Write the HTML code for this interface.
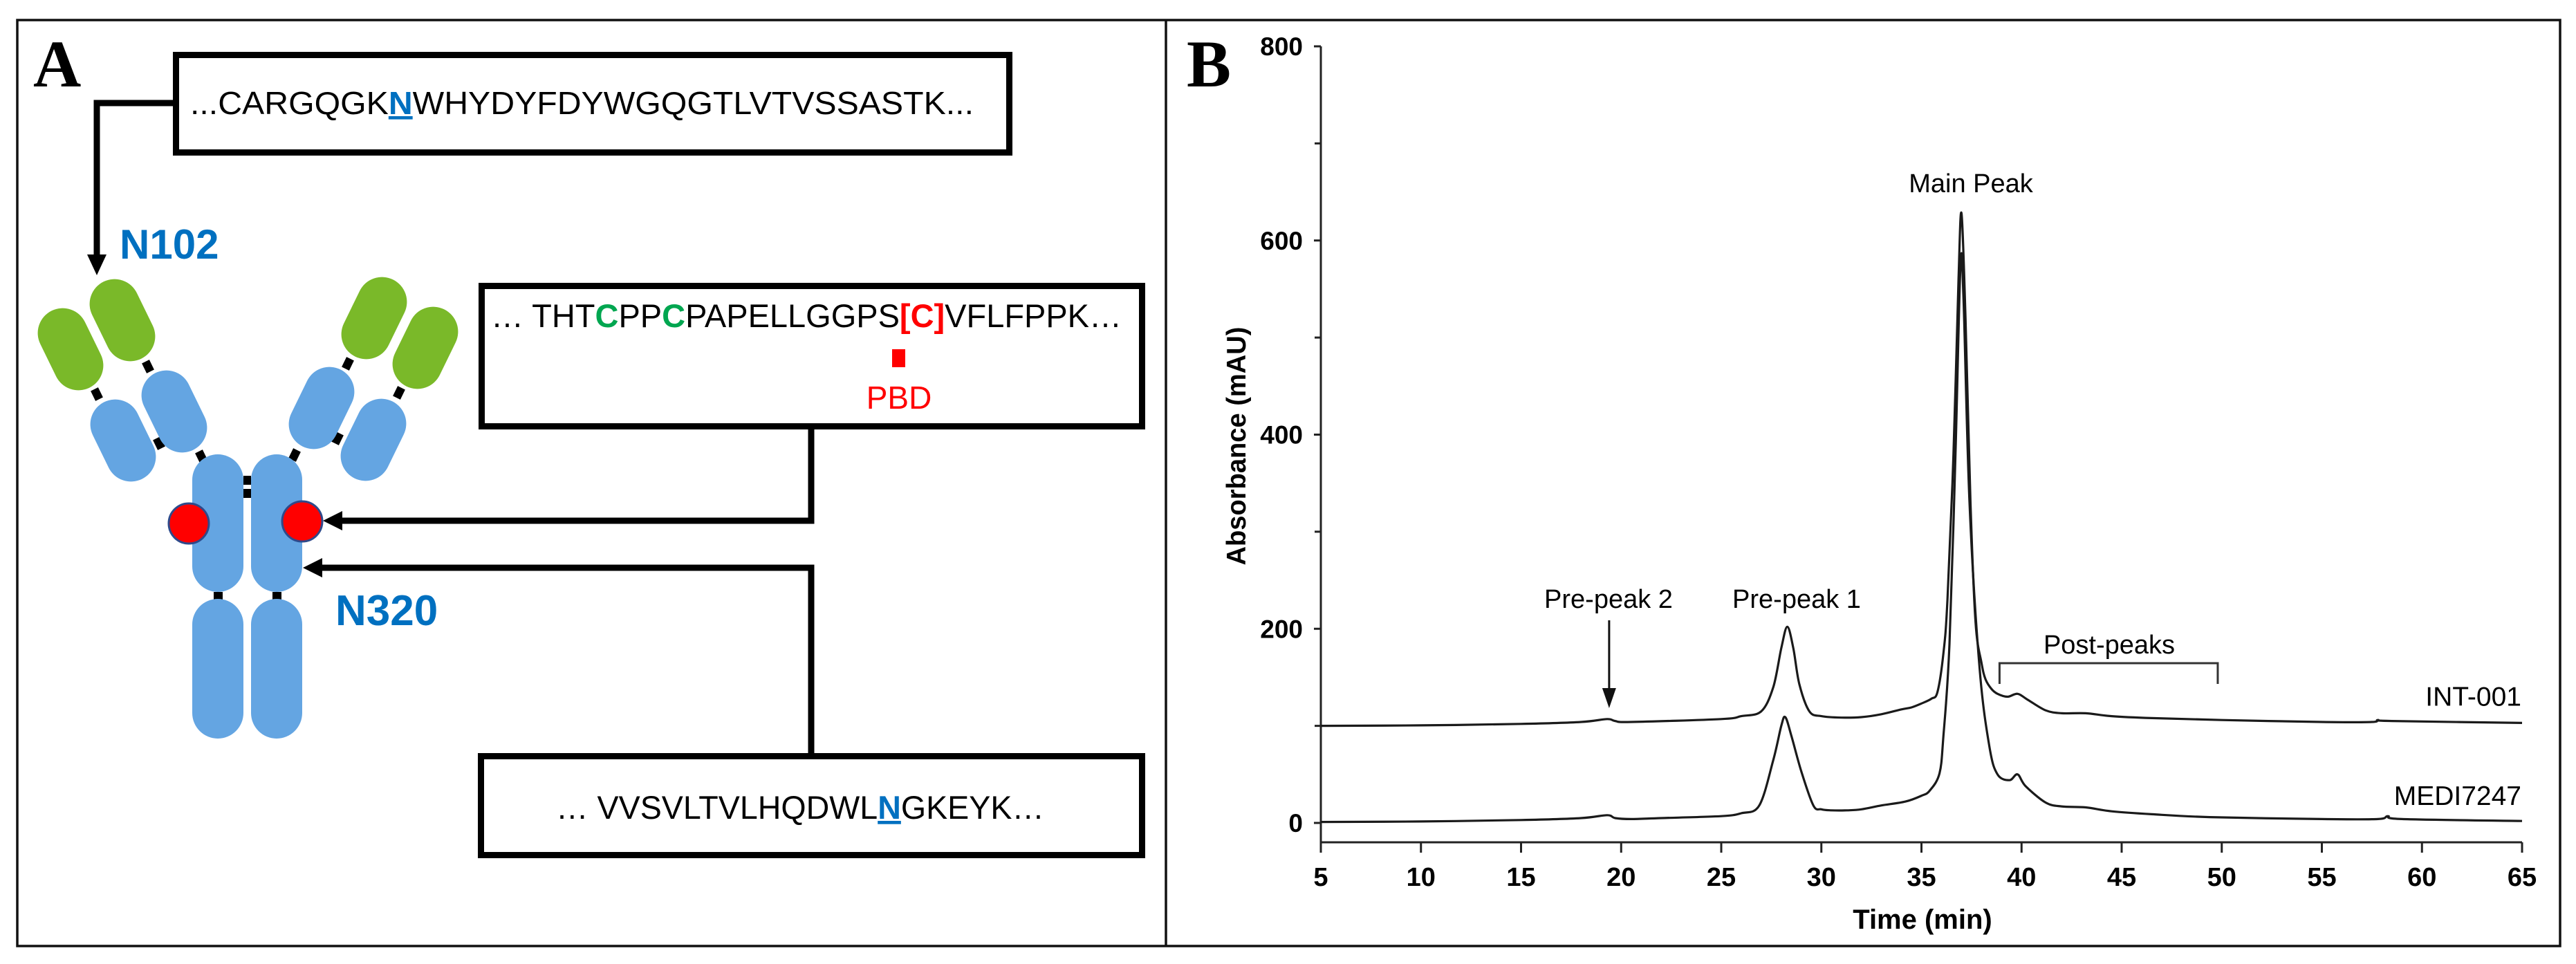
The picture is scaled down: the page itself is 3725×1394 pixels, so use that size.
<!DOCTYPE html>
<html><head><meta charset="utf-8"><style>
html,body{margin:0;padding:0;background:#fff;}
svg{display:block;}
text{font-family:"Liberation Sans",Arial,sans-serif;}
</style></head><body>
<svg id="fig" width="3725" height="1394" viewBox="0 0 3725 1394" xmlns="http://www.w3.org/2000/svg">
<rect x="0" y="0" width="3725" height="1394" fill="#fff"/>
<rect x="25" y="29" width="3677" height="1339" fill="none" stroke="#111" stroke-width="3.5"/>
<line x1="1686" y1="29" x2="1686" y2="1368" stroke="#111" stroke-width="3.5"/>

<!-- Panel A -->
<g>
<text x="48" y="125" style="font-family:'Liberation Serif',serif;font-weight:bold;font-size:96px">A</text>

<rect x="254.5" y="79.5" width="1205" height="141" fill="#fff" stroke="#000" stroke-width="9"/>
<text x="275" y="165" font-size="46" textLength="1133" lengthAdjust="spacingAndGlyphs">...CARGQGK<tspan fill="#0070C0" font-weight="bold" text-decoration="underline">N</tspan>WHYDYFDYWGQGTLVTVSSASTK...</text>

<rect x="696.5" y="413.5" width="955" height="203" fill="#fff" stroke="#000" stroke-width="9"/>
<text x="710" y="473" font-size="47" textLength="912" lengthAdjust="spacingAndGlyphs">… THT<tspan fill="#00A650" font-weight="bold">C</tspan>PP<tspan fill="#00A650" font-weight="bold">C</tspan>PAPELLGGPS<tspan fill="#FF0000" font-weight="bold">[C]</tspan>VFLFPPK…</text>
<rect x="1290" y="505" width="19" height="26" fill="#FF0000"/>
<text x="1300" y="591" font-size="46" fill="#FF0000" text-anchor="middle">PBD</text>

<rect x="695.5" y="1093.5" width="956" height="143" fill="#fff" stroke="#000" stroke-width="9"/>
<text x="804" y="1184" font-size="47" textLength="706" lengthAdjust="spacingAndGlyphs">… VVSVLTVLHQDWL<tspan fill="#0070C0" font-weight="bold" text-decoration="underline">N</tspan>GKEYK…</text>

<!-- connectors -->
<polyline points="254,149 140,149 140,372" fill="none" stroke="#000" stroke-width="9"/>
<polygon points="126,368 154,368 140,398" fill="#000"/>
<polyline points="1173,621 1173,753 492,753" fill="none" stroke="#000" stroke-width="9"/>
<polygon points="495,739 495,767 467,753" fill="#000"/>
<polyline points="1173,1093 1173,821 463,821" fill="none" stroke="#000" stroke-width="9"/>
<polygon points="466,807 466,835 438,821" fill="#000"/>

<text x="173" y="374" font-size="60" font-weight="bold" fill="#0070C0">N102</text>
<text x="485" y="904" font-size="62" font-weight="bold" fill="#0070C0">N320</text>

<!-- antibody -->
<g>
<rect x="352" y="688" width="11" height="13" fill="#000"/>
<rect x="352" y="707" width="11" height="13" fill="#000"/>
<rect x="309" y="856" width="13" height="12" fill="#000"/>
<rect x="394" y="856" width="13" height="12" fill="#000"/>
<g fill="#000">
<rect x="-6" y="-8" width="12" height="16" transform="translate(214,530) rotate(-26)"/>
<rect x="-6" y="-8" width="12" height="16" transform="translate(140,570) rotate(-26)"/>
<rect x="-6" y="-8" width="12" height="16" transform="translate(230,641) rotate(-26)"/>
<rect x="-6" y="-8" width="12" height="16" transform="translate(291,660) rotate(-26)"/>
<rect x="-6" y="-8" width="12" height="16" transform="translate(503,526) rotate(26)"/>
<rect x="-6" y="-8" width="12" height="16" transform="translate(577,568) rotate(26)"/>
<rect x="-6" y="-8" width="12" height="16" transform="translate(488,634) rotate(26)"/>
<rect x="-6" y="-8" width="12" height="16" transform="translate(426,658) rotate(26)"/>
</g>
<rect x="-36" y="-62" width="72" height="124" rx="36" fill="#7AB929" transform="translate(102,505) rotate(-26)"/>
<rect x="-36" y="-62" width="72" height="124" rx="36" fill="#7AB929" transform="translate(177,463) rotate(-26)"/>
<rect x="-36" y="-62" width="72" height="124" rx="36" fill="#64A5E2" transform="translate(178,637) rotate(-26)"/>
<rect x="-36" y="-62" width="72" height="124" rx="36" fill="#64A5E2" transform="translate(252,595) rotate(-26)"/>
<rect x="-36" y="-62" width="72" height="124" rx="36" fill="#7AB929" transform="translate(615,503) rotate(26)"/>
<rect x="-36" y="-62" width="72" height="124" rx="36" fill="#7AB929" transform="translate(541,460) rotate(26)"/>
<rect x="-36" y="-62" width="72" height="124" rx="36" fill="#64A5E2" transform="translate(540,636) rotate(26)"/>
<rect x="-36" y="-62" width="72" height="124" rx="36" fill="#64A5E2" transform="translate(465,590) rotate(26)"/>
<rect x="278" y="657" width="74" height="199" rx="37" fill="#64A5E2"/>
<rect x="363" y="657" width="74" height="199" rx="37" fill="#64A5E2"/>
<rect x="278" y="866" width="74" height="202" rx="37" fill="#64A5E2"/>
<rect x="363" y="866" width="74" height="202" rx="37" fill="#64A5E2"/>
<circle cx="273" cy="757" r="29" fill="#FF0000" stroke="#2E4A8B" stroke-width="3"/>
<circle cx="437" cy="754" r="29" fill="#FF0000" stroke="#2E4A8B" stroke-width="3"/>
</g>
</g>

<!-- Panel B -->
<g id="panelB">
<text x="1716" y="125" style="font-family:'Liberation Serif',serif;font-weight:bold;font-size:96px">B</text>
<text transform="translate(1801,645) rotate(-90)" text-anchor="middle" font-size="39" font-weight="bold" textLength="345" lengthAdjust="spacingAndGlyphs">Absorbance (mAU)</text>
<text x="2780" y="1343" text-anchor="middle" font-size="40" font-weight="bold">Time (min)</text>
</g>
</svg>
<script>
const timesInt = [5,10,15,18,19.3,19.7,20.5,25,26,27,27.6,28.0,28.3,28.6,28.9,29.4,30,31,32,33,34,34.5,35,35.5,35.8,36.1,36.3,36.6,36.85,37.0,37.2,37.45,37.7,38.0,38.2,38.5,38.8,39.3,39.8,40.3,41.2,42,43.2,44.5,46.5,50,55,57.5,57.8,58.5,65];
const valuesInt = [100,100.5,102,104,107,105,104,107,110,115,140,180,202,180,143,115,110,108.5,109,112,117,119,123,128,135,175,230,380,560,628,520,330,207,165,148,138,133,130,133,127,116,113,113,110,108,106,104,104,106,105,103];
const timesMedi = [5,10,15,18,19.3,19.7,20.5,22,25,26,26.9,27.6,28.0,28.2,28.5,29.0,29.6,30,30.5,31.3,32,33,34.2,35,35.4,35.9,36.1,36.4,36.7,36.95,37.1,37.4,37.9,38.4,38.8,39.4,39.8,40.2,41.2,42,43.2,44.5,46.5,49.4,55,57.8,58.3,59,65];
const valuesMedi = [1,1.5,3,5,8,5,4,5,7,10,18,65,100,109,90,53,18,14,13,13,14,18,22,28,33,51,90,184,380,575,540,330,160,78,50,44,50,38,21,17,16,12,9,6,4,4,7,4,2];
const xTicks = [5,10,15,20,25,30,35,40,45,50,55,60,65];
const yTicksMajor = [0,200,400,600,800];
const yTicksMinor = [100,300,500,700];
const seriesLabels = ["INT-001","MEDI7247"];

const NS = "http://www.w3.org/2000/svg";
const g = document.getElementById("panelB");
const X0 = 1910, X1 = 3647, Y0 = 1190, Y800 = 67;
function xs(t){ return X0 + (t - 5) * (X1 - X0) / 60; }
function ys(v){ return Y0 - v * (Y0 - Y800) / 800; }
function mk(tag, attrs){ const e = document.createElementNS(NS, tag); for (const k in attrs) e.setAttribute(k, attrs[k]); g.appendChild(e); return e; }

let e = mk("line", {x1:X0, y1:Y800, x2:X0, y2:1233, stroke:"#222", "stroke-width":3});


e = mk("line", {x1:X0, y1:1218, x2:X1, y2:1218, stroke:"#222", "stroke-width":3});



xTicks.forEach(t => {
  const x = xs(t);
  const tk = mk("line", {x1:x, y1:1218, x2:x, y2:1233, stroke:"#222", "stroke-width":3});
  
  
  const lb = mk("text", {x:x, y:1281, "text-anchor":"middle", "font-size":38, "font-weight":"bold"});
  lb.textContent = t;
  
  
});
yTicksMajor.forEach(v => {
  const y = ys(v);
  const tk = mk("line", {x1:X0 - 10, y1:y, x2:X0, y2:y, stroke:"#222", "stroke-width":3});
  
  
  const lb = mk("text", {x:1884, y:y + 13, "text-anchor":"end", "font-size":37, "font-weight":"bold"});
  lb.textContent = v;
  
  
});
yTicksMinor.forEach(v => {
  const y = ys(v);
  const tk = mk("line", {x1:X0 - 9, y1:y, x2:X0, y2:y, stroke:"#222", "stroke-width":3});
  
  
});

function trace(ts, vs, name){
  const P = ts.map((t, i) => [xs(t), ys(vs[i])]);
  let d = "M" + P[0][0].toFixed(1) + "," + P[0][1].toFixed(1);
  for (let i = 0; i < P.length - 1; i++) {
    const p0 = P[Math.max(0, i - 1)], p1 = P[i], p2 = P[i + 1], p3 = P[Math.min(P.length - 1, i + 2)];
    const k = 1 / 6;
    const c1 = [p1[0] + (p2[0] - p0[0]) * k, p1[1] + (p2[1] - p0[1]) * k];
    const c2 = [p2[0] - (p3[0] - p1[0]) * k, p2[1] - (p3[1] - p1[1]) * k];
    d += " C" + c1[0].toFixed(1) + "," + c1[1].toFixed(1) + " " + c2[0].toFixed(1) + "," + c2[1].toFixed(1) + " " + p2[0].toFixed(1) + "," + p2[1].toFixed(1);
  }
  const p = mk("path", {d:d, fill:"none", stroke:"#1a1a1a", "stroke-width":3.2, "stroke-linejoin":"round"});
  
  
}
trace(timesInt, valuesInt, 'trace-int-001');
trace(timesMedi, valuesMedi, 'trace-medi7247');

e = mk("text", {x:3646, y:ys(valuesInt[valuesInt.length-1]) - 25, "text-anchor":"end", "font-size":39});
e.textContent = seriesLabels[0];


e = mk("text", {x:3646, y:ys(valuesMedi[valuesMedi.length-1]) - 23, "text-anchor":"end", "font-size":39});
e.textContent = seriesLabels[1];



e = mk("text", {x:2850, y:278, "text-anchor":"middle", "font-size":38});
e.textContent = "Main Peak";


e = mk("text", {x:2598, y:879, "text-anchor":"middle", "font-size":38});
e.textContent = "Pre-peak 1";


e = mk("text", {x:2326, y:879, "text-anchor":"middle", "font-size":38});
e.textContent = "Pre-peak 2";


const ax = xs(19.4);
e = mk("line", {x1:ax, y1:897, x2:ax, y2:1000, stroke:"#111", "stroke-width":3});


e = mk("polygon", {points:(ax-10)+",995 "+(ax+10)+",995 "+ax+",1024", fill:"#111"});


e = mk("text", {x:3050, y:945, "text-anchor":"middle", "font-size":38});
e.textContent = "Post-peaks";


e = mk("polyline", {points:xs(38.9)+",989 "+xs(38.9)+",959 "+xs(49.8)+",959 "+xs(49.8)+",989", fill:"none", stroke:"#333", "stroke-width":3});


</script>
</body></html>
